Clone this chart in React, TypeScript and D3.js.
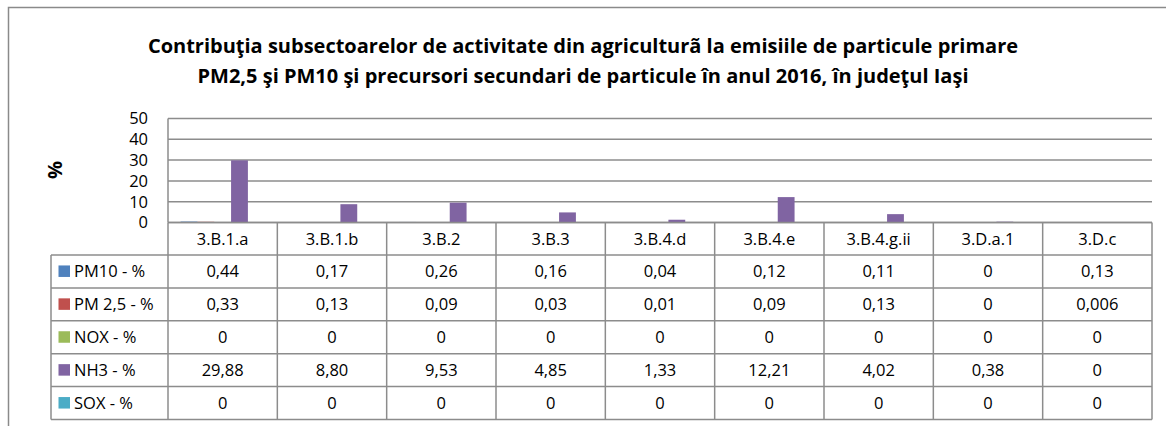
import React from "react";
import * as d3 from "d3";

const categories = ["3.B.1.a", "3.B.1.b", "3.B.2", "3.B.3", "3.B.4.d", "3.B.4.e", "3.B.4.g.ii", "3.D.a.1", "3.D.c"];
const seriesNames = ["PM10 - %", "PM 2,5 - %", "NOX - %", "NH3 - %", "SOX - %"];
const seriesColors = ["#4F81BD", "#C0504D", "#9BBB59", "#8064A2", "#4BACC6"];
const pm10 = [0.44, 0.17, 0.26, 0.16, 0.04, 0.12, 0.11, 0, 0.13];
const pm25 = [0.33, 0.13, 0.09, 0.03, 0.01, 0.09, 0.13, 0, 0.006];
const nox = [0, 0, 0, 0, 0, 0, 0, 0, 0];
const nh3 = [29.88, 8.80, 9.53, 4.85, 1.33, 12.21, 4.02, 0.38, 0];
const sox = [0, 0, 0, 0, 0, 0, 0, 0, 0];
const yTicks = [0, 10, 20, 30, 40, 50];
const titleLines = [
  "Contribuţia subsectoarelor de activitate din agriculturã la emisiile de particule primare",
  "PM2,5 şi PM10 şi precursori secundari de particule în anul 2016, în judeţul Iaşi",
];
const yLabel = "%";

const seriesValues = [pm10, pm25, nox, nh3, sox];

const fmt = (v: number) => {
  if (v === 0) return "0";
  const s = v < 0.01 ? v.toFixed(3) : v.toFixed(2);
  return s.replace(".", ",");
};

export default function App() {
  const W = 1166, H = 426;
  const left = 168, right = 1152;
  const yTop = 118.5, yBottom = 222.5;
  const headerBottom = 255;
  const rowH = 32.9;
  const tableLeft = 51;
  const font = "'Open Sans', Lato, sans-serif";
  const grid = "#8c8c8c";
  const fs = 16.5;

  const x0 = d3.scaleBand<string>().domain(categories).range([left, right]).paddingInner(0).paddingOuter(0);
  const bw = x0.bandwidth() / (seriesNames.length + 1.5);
  const x1 = d3.scaleBand<string>().domain(seriesNames).range([0.75 * bw, x0.bandwidth() - 0.75 * bw]).padding(0);
  const y = d3.scaleLinear().domain([0, 50]).range([yBottom, yTop]);

  const tableBottom = headerBottom + rowH * seriesNames.length;

  return (
    <svg width={W} height={H} style={{ position: "absolute", left: 0, top: 0, background: "#fff" }} fontFamily={font}>
      {/* chart frame */}
      <rect x={8.5} y={7.5} width={1200} height={440} fill="#fff" stroke="#8a8a8a" strokeWidth={1.5} />
      {/* title */}
      {titleLines.map((t, i) => (
        <text key={i} x={583} y={53 + i * 30} textAnchor="middle" fontWeight="bold" fontSize={20} fill="#000">{t}</text>
      ))}
      {/* y label */}
      <text transform={`translate(62,170) rotate(-90)`} textAnchor="middle" fontWeight="bold" fontSize={20} fill="#000">{yLabel}</text>
      {/* gridlines */}
      {yTicks.map((t) => (
        <g key={t}>
          <line x1={left} x2={right} y1={y(t)} y2={y(t)} stroke={grid} strokeWidth={1.5} />
          <text x={148} y={y(t)} dy="0.36em" textAnchor="end" fontSize={fs} fill="#000">{t}</text>
        </g>
      ))}
      <line x1={left} x2={left} y1={yTop} y2={yBottom} stroke={grid} strokeWidth={1.5} />
      {/* bars */}
      {categories.map((c, ci) => (
        <g key={c} transform={`translate(${x0(c)},0)`}>
          {seriesNames.map((s, si) => {
            const v = seriesValues[si][ci];
            return (
              <rect key={s} x={x1(s)} y={y(v)} width={x1.bandwidth()} height={Math.max(0, y(0) - y(v))} fill={seriesColors[si]} />
            );
          })}
        </g>
      ))}
      {/* table header */}
      {categories.map((c) => (
        <text key={c} x={(x0(c) as number) + x0.bandwidth() / 2} y={(yBottom + headerBottom) / 2} dy="0.36em" textAnchor="middle" fontSize={fs} fill="#000">{c}</text>
      ))}
      {/* table horizontal lines */}
      <line x1={left} x2={right} y1={yBottom} y2={yBottom} stroke={grid} strokeWidth={1.5} />
      {seriesNames.map((s, i) => (
        <line key={s} x1={tableLeft} x2={right} y1={headerBottom + i * rowH} y2={headerBottom + i * rowH} stroke={grid} strokeWidth={1.5} />
      ))}
      <line x1={tableLeft} x2={right} y1={tableBottom} y2={tableBottom} stroke={grid} strokeWidth={1.5} />
      {/* vertical lines */}
      <line x1={tableLeft} x2={tableLeft} y1={headerBottom} y2={tableBottom} stroke={grid} strokeWidth={1.5} />
      {categories.map((c) => (
        <line key={c} x1={x0(c)} x2={x0(c)} y1={yBottom} y2={tableBottom} stroke={grid} strokeWidth={1.5} />
      ))}
      <line x1={right} x2={right} y1={yBottom} y2={tableBottom} stroke={grid} strokeWidth={1.5} />
      {/* rows */}
      {seriesNames.map((s, si) => {
        const cy = headerBottom + si * rowH + rowH / 2;
        return (
          <g key={s}>
            <rect x={58.5} y={cy - 6} width={11.5} height={11.5} fill={seriesColors[si]} />
            <text x={74} y={cy} dy="0.36em" fontSize={fs} fill="#000">{s}</text>
            {categories.map((c, ci) => (
              <text key={c} x={(x0(c) as number) + x0.bandwidth() / 2} y={cy} dy="0.36em" textAnchor="middle" fontSize={fs} fill="#000">{fmt(seriesValues[si][ci])}</text>
            ))}
          </g>
        );
      })}
    </svg>
  );
}
